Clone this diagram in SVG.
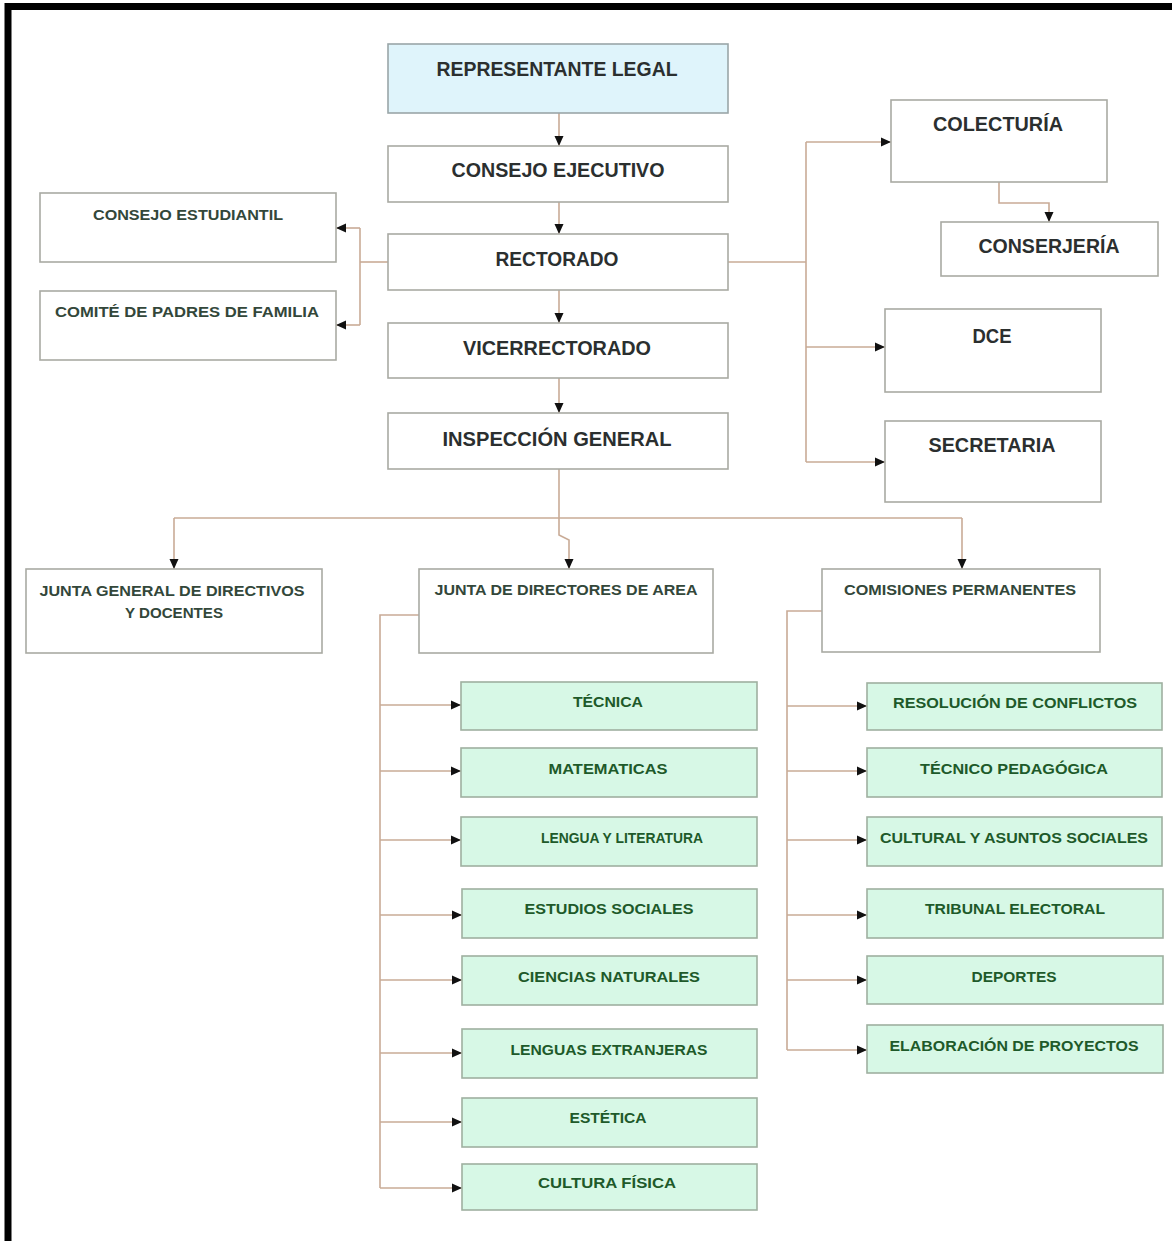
<svg xmlns="http://www.w3.org/2000/svg" width="1172" height="1241" viewBox="0 0 1172 1241">
<defs>
<marker id="ah" markerUnits="userSpaceOnUse" markerWidth="11" markerHeight="11" refX="10" refY="5.5" orient="auto">
<path d="M0,1 L10,5.5 L0,10 Z" fill="#111"/>
</marker>
<style>
.box{fill:#ffffff;stroke:#a9aaa3;stroke-width:1.6}
.top{fill:#dff4fb;stroke:#9aa6a8;stroke-width:1.6}
.grn{fill:#d7f8e6;stroke:#9fb0a0;stroke-width:1.6}
.t1{font-family:"Liberation Sans",Arial,sans-serif;font-weight:bold;font-size:21px;fill:#2b2f2f;text-anchor:middle}
.t2{font-family:"Liberation Sans",Arial,sans-serif;font-weight:bold;font-size:15px;fill:#33473a;text-anchor:middle}
.t3{font-family:"Liberation Sans",Arial,sans-serif;font-weight:bold;font-size:15px;fill:#1e5a2a;text-anchor:middle}
.c{fill:none;stroke:#c9ab96;stroke-width:1.6}
.ca{fill:none;stroke:#c9ab96;stroke-width:1.6;marker-end:url(#ah)}
</style>
</defs>
<rect width="1172" height="1241" fill="#ffffff"/>
<path d="M8,1241 L8,6.5 L1172,6.5" fill="none" stroke="#000" stroke-width="7"/>

<g id="connectors">
<path class="ca" d="M559,113 L559,146"/>
<path class="ca" d="M559,202 L559,234"/>
<path class="ca" d="M559,290 L559,323"/>
<path class="ca" d="M559,378 L559,413"/>
<path class="c" d="M388,262 L360,262"/>
<path class="c" d="M360,228 L360,325"/>
<path class="ca" d="M360,228 L336,228"/>
<path class="ca" d="M360,325 L336,325"/>
<path class="c" d="M728,262 L806,262"/>
<path class="c" d="M806,142 L806,462"/>
<path class="ca" d="M806,142 L891,142"/>
<path class="ca" d="M806,347 L885,347"/>
<path class="ca" d="M806,462 L885,462"/>
<path class="ca" d="M999,182 L999,203 L1049,203 L1049,222"/>
<path class="c" d="M559,469 L559,518"/>
<path class="c" d="M174,518 L962,518"/>
<path class="ca" d="M174,518 L174,569"/>
<path class="ca" d="M559,518 L559,535 L569,540 L569,569"/>
<path class="ca" d="M962,518 L962,569"/>
<path class="c" d="M419,615 L380,615 L380,1188"/>
<path class="ca" d="M380,705 L461,705"/>
<path class="ca" d="M380,771 L461,771"/>
<path class="ca" d="M380,840 L461,840"/>
<path class="ca" d="M380,915 L462,915"/>
<path class="ca" d="M380,980 L462,980"/>
<path class="ca" d="M380,1053 L462,1053"/>
<path class="ca" d="M380,1122 L462,1122"/>
<path class="ca" d="M380,1188 L462,1188"/>
<path class="c" d="M822,611 L787,611 L787,1050"/>
<path class="ca" d="M787,706 L867,706"/>
<path class="ca" d="M787,771 L867,771"/>
<path class="ca" d="M787,840 L867,840"/>
<path class="ca" d="M787,915 L867,915"/>
<path class="ca" d="M787,980 L867,980"/>
<path class="ca" d="M787,1050 L867,1050"/>
</g>

<g id="representante"><rect class="top" x="388" y="44" width="340" height="69"/><text class="t1" x="557" y="76" textLength="241" lengthAdjust="spacingAndGlyphs">REPRESENTANTE LEGAL</text></g>
<g id="consejo-ejecutivo"><rect class="box" x="388" y="146" width="340" height="56"/><text class="t1" x="558" y="177" textLength="213" lengthAdjust="spacingAndGlyphs">CONSEJO EJECUTIVO</text></g>
<g id="rectorado"><rect class="box" x="388" y="234" width="340" height="56"/><text class="t1" x="557" y="266" textLength="123" lengthAdjust="spacingAndGlyphs">RECTORADO</text></g>
<g id="vicerrectorado"><rect class="box" x="388" y="323" width="340" height="55"/><text class="t1" x="557" y="355" textLength="188" lengthAdjust="spacingAndGlyphs">VICERRECTORADO</text></g>
<g id="inspeccion"><rect class="box" x="388" y="413" width="340" height="56"/><text class="t1" x="557" y="446" textLength="229" lengthAdjust="spacingAndGlyphs">INSPECCIÓN GENERAL</text></g>

<g id="consejo-estudiantil"><rect class="box" x="40" y="193" width="296" height="69"/><text class="t2" x="188" y="220" textLength="190" lengthAdjust="spacingAndGlyphs">CONSEJO ESTUDIANTIL</text></g>
<g id="comite-padres"><rect class="box" x="40" y="291" width="296" height="69"/><text class="t2" x="187" y="317" textLength="264" lengthAdjust="spacingAndGlyphs">COMITÉ DE PADRES DE FAMILIA</text></g>

<g id="colecturia"><rect class="box" x="891" y="100" width="216" height="82"/><text class="t1" x="998" y="131" textLength="130" lengthAdjust="spacingAndGlyphs">COLECTURÍA</text></g>
<g id="conserjeria"><rect class="box" x="941" y="222" width="217" height="54"/><text class="t1" x="1049" y="253" textLength="141" lengthAdjust="spacingAndGlyphs">CONSERJERÍA</text></g>
<g id="dce"><rect class="box" x="885" y="309" width="216" height="83"/><text class="t1" x="992" y="343" textLength="39" lengthAdjust="spacingAndGlyphs">DCE</text></g>
<g id="secretaria"><rect class="box" x="885" y="421" width="216" height="81"/><text class="t1" x="992" y="452" textLength="127" lengthAdjust="spacingAndGlyphs">SECRETARIA</text></g>

<g id="junta-general"><rect class="box" x="26" y="569" width="296" height="84"/><text class="t2" x="172" y="596" textLength="265" lengthAdjust="spacingAndGlyphs">JUNTA GENERAL DE DIRECTIVOS</text><text class="t2" x="174" y="618" textLength="98" lengthAdjust="spacingAndGlyphs">Y DOCENTES</text></g>
<g id="junta-directores"><rect class="box" x="419" y="569" width="294" height="84"/><text class="t2" x="566" y="595" textLength="263" lengthAdjust="spacingAndGlyphs">JUNTA DE DIRECTORES DE AREA</text></g>
<g id="comisiones"><rect class="box" x="822" y="569" width="278" height="83"/><text class="t2" x="960" y="595" textLength="232" lengthAdjust="spacingAndGlyphs">COMISIONES PERMANENTES</text></g>

<g id="tecnica"><rect class="grn" x="461" y="682" width="296" height="48"/><text class="t3" x="608" y="707" textLength="70" lengthAdjust="spacingAndGlyphs">TÉCNICA</text></g>
<g id="matematicas"><rect class="grn" x="461" y="748" width="296" height="49"/><text class="t3" x="608" y="774" textLength="119" lengthAdjust="spacingAndGlyphs">MATEMATICAS</text></g>
<g id="lengua"><rect class="grn" x="461" y="817" width="296" height="49"/><text class="t3" x="622" y="843" textLength="162" lengthAdjust="spacingAndGlyphs">LENGUA Y LITERATURA</text></g>
<g id="estudios"><rect class="grn" x="462" y="889" width="295" height="49"/><text class="t3" x="609" y="914" textLength="169" lengthAdjust="spacingAndGlyphs">ESTUDIOS SOCIALES</text></g>
<g id="ciencias"><rect class="grn" x="462" y="956" width="295" height="49"/><text class="t3" x="609" y="982" textLength="182" lengthAdjust="spacingAndGlyphs">CIENCIAS NATURALES</text></g>
<g id="lenguas"><rect class="grn" x="462" y="1029" width="295" height="49"/><text class="t3" x="609" y="1055" textLength="197" lengthAdjust="spacingAndGlyphs">LENGUAS EXTRANJERAS</text></g>
<g id="estetica"><rect class="grn" x="462" y="1098" width="295" height="49"/><text class="t3" x="608" y="1123" textLength="77" lengthAdjust="spacingAndGlyphs">ESTÉTICA</text></g>
<g id="cultura-fisica"><rect class="grn" x="462" y="1164" width="295" height="46"/><text class="t3" x="607" y="1188" textLength="138" lengthAdjust="spacingAndGlyphs">CULTURA FÍSICA</text></g>

<g id="resolucion"><rect class="grn" x="867" y="683" width="295" height="47"/><text class="t3" x="1015" y="708" textLength="244" lengthAdjust="spacingAndGlyphs">RESOLUCIÓN DE CONFLICTOS</text></g>
<g id="tecnico-pedagogica"><rect class="grn" x="867" y="748" width="295" height="49"/><text class="t3" x="1014" y="774" textLength="188" lengthAdjust="spacingAndGlyphs">TÉCNICO PEDAGÓGICA</text></g>
<g id="cultural"><rect class="grn" x="867" y="817" width="295" height="49"/><text class="t3" x="1014" y="843" textLength="268" lengthAdjust="spacingAndGlyphs">CULTURAL Y ASUNTOS SOCIALES</text></g>
<g id="tribunal"><rect class="grn" x="867" y="889" width="296" height="49"/><text class="t3" x="1015" y="914" textLength="180" lengthAdjust="spacingAndGlyphs">TRIBUNAL ELECTORAL</text></g>
<g id="deportes"><rect class="grn" x="867" y="956" width="296" height="48"/><text class="t3" x="1014" y="982" textLength="85" lengthAdjust="spacingAndGlyphs">DEPORTES</text></g>
<g id="elaboracion"><rect class="grn" x="867" y="1025" width="296" height="48"/><text class="t3" x="1014" y="1051" textLength="249" lengthAdjust="spacingAndGlyphs">ELABORACIÓN DE PROYECTOS</text></g>
</svg>
